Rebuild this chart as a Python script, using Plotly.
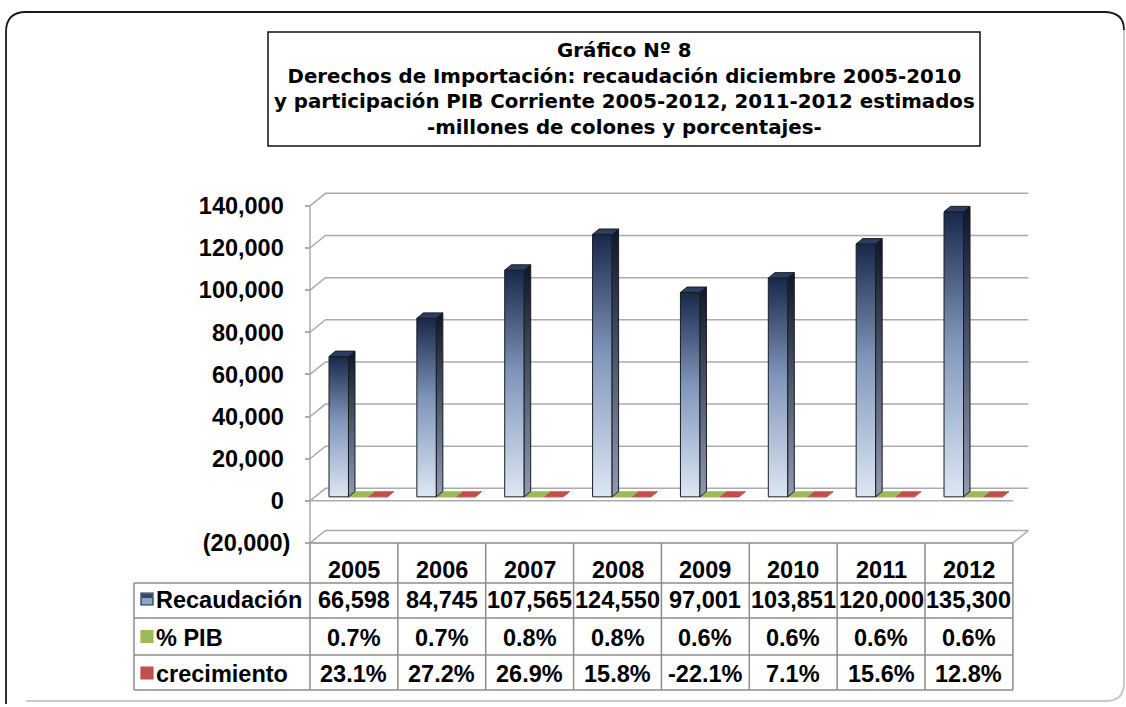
import plotly.graph_objects as go

# data
years = ['2005', '2006', '2007', '2008', '2009', '2010', '2011', '2012']
recaudacion = [66598, 84745, 107565, 124550, 97001, 103851, 120000, 135300]
pct_pib = [0.7, 0.7, 0.8, 0.8, 0.6, 0.6, 0.6, 0.6]
crecimiento = [23.1, 27.2, 26.9, 15.8, -22.1, 7.1, 15.6, 12.8]
y_ticks = [-20000, 0, 20000, 40000, 60000, 80000, 100000, 120000, 140000]
series_names = ['Recaudación', '% PIB', 'crecimiento']

title_lines = ['Gráfico Nº 8',
               'Derechos de Importación: recaudación diciembre 2005-2010',
               'y participación PIB Corriente 2005-2012, 2011-2012 estimados',
               '-millones de colones y porcentajes-']

# the photo comes out squeezed to 707 rows from roughly 720, so the figure
# is made 720 tall and everything is placed as a fraction of the 707 picture
W, H = 1126, 720
PIC_H = 707
FONT = 'Liberation Sans, Arial, sans-serif'
TITLE_FONT = 'DejaVu Sans, Verdana, sans-serif'
GRID = '#ababab'
TABLE_LINE = '#8c8c8c'

# geometry in picture pixels
COL_W = 87.86            # width of one category
X0_PX = 310              # front y axis (x = -0.5)
Y0_PX = 543              # front plane, value -20000
PX_PER_Y = 295 / 140000
XMIN, XMAX = -0.56, 7.72
YMIN, YMAX = -20000, 147600

# fake 3d
WALL_DX = 15.5 / COL_W
WALL_DY = 12.5 / PX_PER_Y
BAR_DX = 6.5 / COL_W
BAR_DY = 5.4 / PX_PER_Y
BAR_BASE = 4 / PX_PER_Y
BAR_OFF = 19 / COL_W
BAR_W = 19.5 / COL_W

# table rows (px)
LEG_LEFT = 134
ROW_LINES = [583, 618, 655, 690]
ROW_TEXT = [600, 637.5, 674]
HEAD_TEXT = 570


def px(x):
    return x / W


def py(y):
    return 1 - y / PIC_H


def fmt_tick(v):
    if v < 0:
        return '({:,})'.format(-v)
    return '{:,}\u00a0'.format(v)


fig = go.Figure()

# walls, gridlines, floor edge, axis line
n = len(years)
gx, gy = [], []
for v in y_ticks:
    gx += [-0.5, -0.5 + WALL_DX, n - 0.5 + WALL_DX, None]
    gy += [v, v + WALL_DY, v + WALL_DY, None]
gx += [-0.5, -0.5, None, -0.5, n - 0.5, None, n - 0.5, n - 0.5 + WALL_DX]
gy += [y_ticks[0], y_ticks[-1], None, 0, 0, None, y_ticks[0], y_ticks[0] + WALL_DY]
fig.add_trace(go.Scatter(x=gx, y=gy, mode='lines', hoverinfo='skip',
                         line=dict(color=GRID, width=1.5), showlegend=False))


def add_bar(i, k, v, front, side, top, line, lw):
    x0 = i - 0.5 + BAR_OFF + k * BAR_W
    x1 = x0 + BAR_W
    b = BAR_BASE
    t = BAR_BASE + v
    polys = [
        ([x0, x1, x1, x0, x0], [b, b, t, t, b], front),
        ([x1, x1 + BAR_DX, x1 + BAR_DX, x1, x1],
         [b, b + BAR_DY, t + BAR_DY, t, b], side),
        ([x0, x1, x1 + BAR_DX, x0 + BAR_DX, x0],
         [t, t, t + BAR_DY, t + BAR_DY, t], top),
    ]
    for xs, ys, fill in polys:
        kw = dict(x=xs, y=ys, mode='lines', fill='toself', hoverinfo='skip',
                  line=dict(color=line, width=lw), showlegend=False)
        if isinstance(fill, list):
            kw['fillgradient'] = dict(type='vertical', colorscale=fill)
        else:
            kw['fillcolor'] = fill
        fig.add_trace(go.Scatter(**kw))


for i in range(n):
    add_bar(i, 2, crecimiento[i], '#c0504d', '#a33f3c', '#c0504d', '#b84a47', 0.5)
    add_bar(i, 1, pct_pib[i], '#9bbb59', '#84a24a', '#9bbb59', '#92b153', 0.5)
    add_bar(i, 0, recaudacion[i],
            [[0, '#dde7f5'], [0.55, '#7f95b9'], [1, '#18284a']],
            [[0, '#8e9bb3'], [1, '#0d172b']],
            '#2a3d63', '#1c1c1c', 1)

shapes = []


def hline(y, x0, x1, color=TABLE_LINE, width=1.5):
    shapes.append(dict(type='line', xref='paper', yref='paper',
                       x0=px(x0), x1=px(x1), y0=py(y), y1=py(y),
                       line=dict(color=color, width=width)))


def vline(x, y0, y1, color=TABLE_LINE, width=1.5):
    shapes.append(dict(type='line', xref='paper', yref='paper',
                       x0=px(x), x1=px(x), y0=py(y0), y1=py(y1),
                       line=dict(color=color, width=width)))


# data table grid
right_px = X0_PX + n * COL_W
hline(Y0_PX, X0_PX, right_px)
for y in ROW_LINES:
    hline(y, LEG_LEFT, right_px)
for k in range(n + 1):
    vline(X0_PX + k * COL_W, Y0_PX, ROW_LINES[-1])
vline(LEG_LEFT, ROW_LINES[0], ROW_LINES[-1])

# legend keys in the table
key_styles = [('#8fa3c4', '#1f2f4f'), ('#9bbb59', '#9bbb59'), ('#c0504d', '#c0504d')]
for r, (fill, edge) in enumerate(key_styles):
    cy = ROW_TEXT[r] - 1
    shapes.append(dict(type='rect', xref='paper', yref='paper',
                       x0=px(141), x1=px(153), y0=py(cy - 6), y1=py(cy + 6),
                       fillcolor=fill, line=dict(color=edge, width=1.2)))
    if r == 0:
        shapes.append(dict(type='rect', xref='paper', yref='paper',
                           x0=px(142), x1=px(152), y0=py(cy - 5), y1=py(cy - 1),
                           fillcolor='#34486e', line=dict(width=0)))

# title box
shapes.append(dict(type='rect', xref='paper', yref='paper',
                   x0=px(268), x1=px(980), y0=py(32), y1=py(146),
                   line=dict(color='#111111', width=1.5)))


# outer frame
def pts(*p):
    return ' '.join('{},{}'.format(px(a), py(b)) for a, b in p)


shapes.append(dict(type='path', xref='paper', yref='paper',
                   path='M ' + pts((1124, 30)) + ' L ' + pts((1124, 683)) +
                   ' Q ' + pts((1124, 701), (1106, 701)) + ' L ' + pts((26, 701)),
                   line=dict(color='#c9c9c9', width=2)))
shapes.append(dict(type='path', xref='paper', yref='paper',
                   path='M ' + pts((6, 704)) + ' L ' + pts((6, 32)) +
                   ' Q ' + pts((6, 12), (26, 12)) + ' L ' + pts((1104, 12)) +
                   ' Q ' + pts((1124, 12), (1124, 30)),
                   line=dict(color='#1a1a1a', width=1.8)))

annotations = []
cell_font = dict(family=FONT, size=23.5, color='black', weight='bold')
row_values = [['{:,}'.format(v) for v in recaudacion],
              ['{:.1f}%'.format(v) for v in pct_pib],
              ['{:.1f}%'.format(v) for v in crecimiento]]
for i, yr in enumerate(years):
    annotations.append(dict(x=i, xref='x', y=py(HEAD_TEXT), yref='paper',
                            text=yr, showarrow=False, font=cell_font,
                            xanchor='center', yanchor='middle'))
    for r in range(3):
        annotations.append(dict(x=i, xref='x', y=py(ROW_TEXT[r]), yref='paper',
                                text=row_values[r][i], showarrow=False,
                                font=cell_font, xanchor='center', yanchor='middle'))
for r, name in enumerate(series_names):
    annotations.append(dict(x=px(154), xref='paper', y=py(ROW_TEXT[r]), yref='paper',
                            text=name, showarrow=False, font=cell_font,
                            xanchor='left', yanchor='middle'))

annotations.append(dict(x=px(624), y=py(89), xref='paper', yref='paper',
                        text='<br>'.join(title_lines), showarrow=False,
                        align='center', xanchor='center', yanchor='middle',
                        font=dict(family=TITLE_FONT, size=19.8, color='black',
                                  weight='bold')))

fig.update_layout(
    width=W, height=H,
    margin=dict(l=0, r=0, t=0, b=0),
    paper_bgcolor='white', plot_bgcolor='white',
    showlegend=False,
    xaxis=dict(domain=[px(X0_PX + (XMIN + 0.5) * COL_W),
                       px(X0_PX + (XMAX + 0.5) * COL_W)],
               range=[XMIN, XMAX], visible=False),
    yaxis=dict(domain=[py(Y0_PX), py(Y0_PX - (YMAX - YMIN) * PX_PER_Y)],
               range=[YMIN, YMAX], anchor='free', position=px(X0_PX),
               tickvals=y_ticks, ticktext=[fmt_tick(v) for v in y_ticks],
               ticks='outside', ticklen=5, tickwidth=1.5, tickcolor=GRID,
               showgrid=False, zeroline=False, showline=False,
               ticklabelstandoff=10,
               tickfont=dict(family=FONT, size=23.5, color='black', weight='bold')),
    shapes=shapes,
    annotations=annotations,
)

# drop the default body margin so the figure sits at the window's corner
fig.write_html("out.html", config={'displayModeBar': False},
               post_script="document.body.style.margin='0';"
                           "document.body.style.overflow='hidden';")
